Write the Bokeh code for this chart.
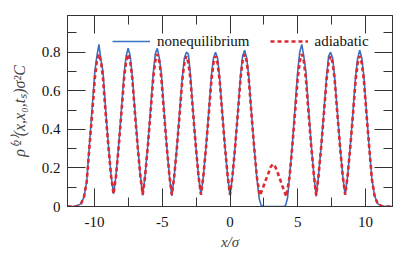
from bokeh.plotting import figure
from bokeh.models import Range1d, LinearAxis, SingleIntervalTicker, CustomJSTickFormatter
from bokeh.embed import file_html
from bokeh.resources import INLINE

# ---- data ----
x_noneq = [-12, -11.6, -11.3, -11.0, -10.78,
           -10.58, -10.38, -10.18, -9.98, -9.83, -9.68, -9.53, -9.38, -9.18, -8.98, -8.78, -8.60,
           -8.42, -8.22, -8.02, -7.82, -7.67, -7.52, -7.37, -7.22, -7.02, -6.82, -6.62, -6.445,
           -6.27, -6.07, -5.87, -5.67, -5.52, -5.37, -5.22, -5.07, -4.87, -4.67, -4.47, -4.295,
           -4.12, -3.92, -3.72, -3.52, -3.37, -3.22, -3.07, -2.92, -2.72, -2.52, -2.32, -2.145,
           -1.97, -1.77, -1.57, -1.37, -1.22, -1.07, -0.92, -0.77, -0.57, -0.37, -0.17, 0.0,
           0.18, 0.38, 0.58, 0.78, 0.93, 1.08, 1.23, 1.38, 1.58, 1.78, 1.98, 2.16, 2.3, 2.45,
           3.2, 4.0, 4.12, 4.25,
           4.40, 4.60, 4.80, 5.00, 5.15, 5.30, 5.45, 5.60, 5.80, 6.00, 6.20, 6.365,
           6.53, 6.73, 6.93, 7.13, 7.28, 7.43, 7.58, 7.73, 7.93, 8.13, 8.33, 8.505,
           8.68, 8.88, 9.08, 9.28, 9.43, 9.58, 9.73, 9.88, 10.08, 10.28, 10.48, 10.68, 10.9, 11.2, 11.6, 12]
y_noneq = [0, 0, 0.002, 0.015, 0.05,
           0.13, 0.32, 0.51, 0.70, 0.78, 0.84, 0.76, 0.70, 0.50, 0.32, 0.16, 0.065,
           0.16, 0.32, 0.50, 0.69, 0.78, 0.82, 0.78, 0.68, 0.50, 0.32, 0.16, 0.058,
           0.16, 0.32, 0.50, 0.69, 0.79, 0.82, 0.77, 0.69, 0.50, 0.31, 0.155, 0.055,
           0.155, 0.31, 0.49, 0.67, 0.77, 0.80, 0.79, 0.68, 0.49, 0.31, 0.155, 0.06,
           0.155, 0.31, 0.49, 0.68, 0.77, 0.80, 0.77, 0.67, 0.49, 0.31, 0.155, 0.058,
           0.155, 0.31, 0.49, 0.68, 0.78, 0.81, 0.77, 0.68, 0.49, 0.31, 0.15, 0.04, 0.006, 0,
           0, 0, 0.008, 0.045,
           0.16, 0.32, 0.51, 0.70, 0.80, 0.84, 0.78, 0.70, 0.51, 0.32, 0.16, 0.052,
           0.155, 0.31, 0.49, 0.67, 0.78, 0.80, 0.77, 0.67, 0.49, 0.31, 0.155, 0.06,
           0.155, 0.31, 0.49, 0.68, 0.77, 0.81, 0.77, 0.68, 0.49, 0.31, 0.14, 0.055, 0.015, 0.002, 0, 0]

x_adiab = [-12, -11.6, -11.3, -11.0, -10.78,
           -10.58, -10.38, -10.18, -9.98, -9.83, -9.68, -9.53, -9.38, -9.18, -8.98, -8.78, -8.60,
           -8.42, -8.22, -8.02, -7.82, -7.67, -7.52, -7.37, -7.22, -7.02, -6.82, -6.62, -6.445,
           -6.27, -6.07, -5.87, -5.67, -5.52, -5.37, -5.22, -5.07, -4.87, -4.67, -4.47, -4.295,
           -4.12, -3.92, -3.72, -3.52, -3.37, -3.22, -3.07, -2.92, -2.72, -2.52, -2.32, -2.145,
           -1.97, -1.77, -1.57, -1.37, -1.22, -1.07, -0.92, -0.77, -0.57, -0.37, -0.17, 0.0,
           0.18, 0.38, 0.58, 0.78, 0.93, 1.08, 1.23, 1.38, 1.58, 1.78, 1.98,
           2.2, 2.4, 2.6, 2.8, 3.0, 3.17, 3.35, 3.55, 3.75, 3.95, 4.16,
           4.40, 4.60, 4.80, 5.00, 5.15, 5.30, 5.45, 5.60, 5.80, 6.00, 6.20, 6.365,
           6.53, 6.73, 6.93, 7.13, 7.28, 7.43, 7.58, 7.73, 7.93, 8.13, 8.33, 8.505,
           8.68, 8.88, 9.08, 9.28, 9.43, 9.58, 9.73, 9.88, 10.08, 10.28, 10.48, 10.68, 10.9, 11.2, 11.6, 12]
y_adiab = [0, 0, 0.002, 0.015, 0.05,
           0.13, 0.31, 0.48, 0.665, 0.755, 0.79, 0.755, 0.665, 0.48, 0.31, 0.157, 0.065,
           0.157, 0.31, 0.484, 0.666, 0.754, 0.79, 0.754, 0.666, 0.484, 0.31, 0.157, 0.062,
           0.157, 0.31, 0.484, 0.666, 0.754, 0.79, 0.754, 0.666, 0.484, 0.31, 0.157, 0.06,
           0.155, 0.306, 0.478, 0.658, 0.744, 0.78, 0.744, 0.658, 0.478, 0.306, 0.155, 0.062,
           0.155, 0.306, 0.478, 0.658, 0.744, 0.78, 0.744, 0.658, 0.478, 0.306, 0.155, 0.062,
           0.157, 0.31, 0.484, 0.666, 0.754, 0.79, 0.754, 0.666, 0.484, 0.31, 0.155,
           0.057, 0.09, 0.13, 0.165, 0.205, 0.22, 0.205, 0.17, 0.13, 0.09, 0.052,
           0.155, 0.31, 0.484, 0.666, 0.754, 0.79, 0.754, 0.666, 0.484, 0.31, 0.157, 0.058,
           0.155, 0.306, 0.478, 0.658, 0.744, 0.78, 0.744, 0.658, 0.478, 0.306, 0.155, 0.062,
           0.155, 0.306, 0.478, 0.658, 0.744, 0.78, 0.744, 0.658, 0.478, 0.306, 0.14, 0.055, 0.015, 0.002, 0, 0]

series_names = ["nonequilibrium", "adiabatic"]
x_label = "x/σ"
y_label = "ρ⁽²⁾(x,x₀,tₛ)σ²C"
x_tick_text = {-10: "-10", -5: "-5", 0: "0", 5: "5", 10: "10"}
y_tick_text = {0: "0"}

FONT = "'Liberation Serif', 'Times New Roman', serif"
AX = "#333333"

p = figure(width=407, height=255, x_range=Range1d(-12, 12), y_range=Range1d(0, 0.99),
           output_backend="svg", toolbar_location=None,
           min_border_left=67, min_border_right=15, min_border_top=15, min_border_bottom=49)
p.xgrid.visible = False
p.ygrid.visible = False
p.outline_line_color = AX
p.outline_line_width = 1
p.background_fill_color = "white"
p.border_fill_color = "white"

xt = SingleIntervalTicker(interval=5, num_minor_ticks=2)
yt = SingleIntervalTicker(interval=0.2, num_minor_ticks=2)


def style(ax, show_labels):
    ax.axis_line_color = AX
    ax.major_tick_line_color = AX
    ax.minor_tick_line_color = AX
    ax.major_tick_in = 18
    ax.major_tick_out = 0
    ax.minor_tick_in = 9
    ax.minor_tick_out = 0
    ax.major_label_text_font = FONT
    ax.major_label_text_font_size = "15px"
    ax.major_label_text_color = "#111111"
    if not show_labels:
        ax.formatter = CustomJSTickFormatter(code="return ''")
        ax.major_label_standoff = 0


xa = p.xaxis[0]
xa.ticker = xt
style(xa, True)
xa.major_label_standoff = 10
xa.major_label_overrides = x_tick_text
xa.axis_label = x_label
xa.axis_label_text_font = FONT
xa.axis_label_text_font_size = "15px"
xa.axis_label_text_font_style = "italic"
xa.axis_label_standoff = 4

ya = p.yaxis[0]
ya.ticker = yt
style(ya, True)
ya.major_label_standoff = 7
ya.major_label_overrides = y_tick_text
ya.axis_label = y_label
ya.axis_label_text_font = FONT
ya.axis_label_text_font_size = "16px"
ya.axis_label_text_font_style = "italic"
ya.axis_label_standoff = 11

top = LinearAxis(ticker=SingleIntervalTicker(interval=5, num_minor_ticks=2))
style(top, False)
p.add_layout(top, "above")
right = LinearAxis(ticker=SingleIntervalTicker(interval=0.2, num_minor_ticks=2))
style(right, False)
p.add_layout(right, "right")

p.line(x_noneq, y_noneq, line_color="#3b6fc2", line_width=1.6, legend_label=series_names[0])
p.line(x_adiab, y_adiab, line_color="#dc2a30", line_width=2.6, line_dash="4 3",
       legend_label=series_names[1])

lg = p.legend[0]
lg.orientation = "horizontal"
lg.location = (45, 155)
lg.border_line_color = None
lg.background_fill_alpha = 0
lg.padding = 0
lg.margin = 0
lg.spacing = 20
lg.glyph_width = 38
lg.glyph_height = 20
lg.label_standoff = 7
lg.label_text_font = FONT
lg.label_text_font_size = "15px"
lg.label_text_color = "#111111"

open("out.html", "w").write(file_html(p, INLINE))
